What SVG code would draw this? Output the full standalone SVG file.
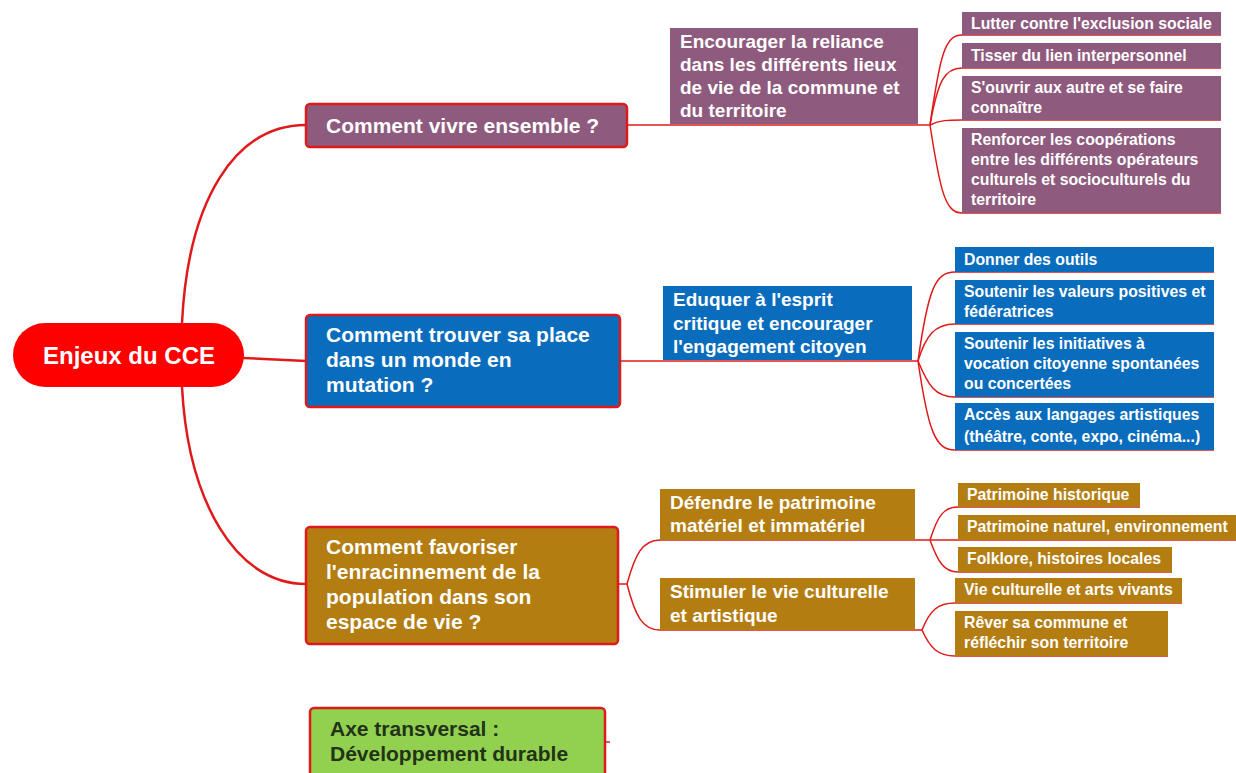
<svg xmlns="http://www.w3.org/2000/svg" width="1236" height="773" viewBox="0 0 1236 773">
<style>
text{font-family:"Liberation Sans",Arial,sans-serif;font-weight:bold;}
.main{stroke:#e01a1a;stroke-width:2.5;}
.pur{fill:#8e5a7d;}
.blu{fill:#0a6cbc;}
.brn{fill:#b37d12;}
.t1{fill:#fff;font-size:21px;}
.t2{fill:#fff;font-size:19px;}
.t3{fill:#fff;font-size:15.8px;}
.c{fill:none;stroke:#e01a1a;stroke-width:1.5;}
.cb{fill:none;stroke:#e01a1a;stroke-width:2.5;}
</style>
<rect width="1236" height="773" fill="#fff"/>
<g id="connectors">
<path class="cb" d="M182,323 C188,200 235,125 306,125"/>
<path class="cb" d="M182,387 C188,500 235,584 306,584"/>
<path class="cb" d="M243,358 L306,361"/>
<path class="c" d="M627,125 L930,125"/>
<path class="c" d="M930,125 C940,55 945,35 962,35 L1221,35"/>
<path class="c" d="M930,125 C938,80 945,68 962,68 L1221,68"/>
<path class="c" d="M930,125 C940,120 948,120 962,120 L1221,120"/>
<path class="c" d="M930,125 C940,190 945,213 962,213 L1221,213"/>
<path class="c" d="M620,361 L918,361"/>
<path class="c" d="M918,361 C928,290 935,272 955,272 L1214,272"/>
<path class="c" d="M918,361 C926,335 935,324 955,324 L1214,324"/>
<path class="c" d="M918,361 C928,385 935,397 955,397 L1214,397"/>
<path class="c" d="M918,361 C928,430 935,450 955,450 L1214,450"/>
<path class="c" d="M618,584 L627,584"/>
<path class="c" d="M627,584 C635,555 642,540 660,540 L930,540"/>
<path class="c" d="M627,584 C635,615 642,630 660,630 L922,630"/>
<path class="c" d="M930,540 C938,515 944,507 958,507 L1140,507"/>
<path class="c" d="M930,540 L1236,540"/>
<path class="c" d="M930,540 C938,562 944,572 958,572 L1172,572"/>
<path class="c" d="M922,630 C930,610 938,603 955,603 L1182,603"/>
<path class="c" d="M922,630 C930,648 938,656 955,656 L1168,656"/>
<path class="c" d="M605,742 L610,742"/>
</g>
<g id="root">
<rect x="13" y="323" width="231" height="64" rx="32" fill="#ff0000"/>
<text x="129" y="364" text-anchor="middle" fill="#fff" font-size="24">Enjeux du CCE</text>
</g>
<g id="n1">
<rect class="pur main" x="306" y="104" width="321" height="43" rx="4"/>
<text class="t1" x="326" y="133">Comment vivre ensemble ?</text>
</g>
<g id="n1a">
<rect class="pur" x="670" y="28" width="248" height="96"/>
<text class="t2"><tspan x="680" y="48">Encourager la reliance</tspan><tspan x="680" y="71">dans les différents lieux</tspan><tspan x="680" y="94">de vie de la commune et</tspan><tspan x="680" y="117">du territoire</tspan></text>
</g>
<g id="n1a1"><rect class="pur" x="962" y="12" width="259" height="23"/><text class="t3" x="971" y="29">Lutter contre l'exclusion sociale</text></g>
<g id="n1a2"><rect class="pur" x="962" y="43" width="259" height="25"/><text class="t3" x="971" y="61">Tisser du lien interpersonnel</text></g>
<g id="n1a3"><rect class="pur" x="962" y="76" width="259" height="44"/><text class="t3"><tspan x="971" y="93">S'ouvrir aux autre et se faire</tspan><tspan x="971" y="113">connaître</tspan></text></g>
<g id="n1a4"><rect class="pur" x="962" y="128" width="259" height="85"/><text class="t3"><tspan x="971" y="145">Renforcer les coopérations</tspan><tspan x="971" y="165">entre les différents opérateurs</tspan><tspan x="971" y="185">culturels et socioculturels du</tspan><tspan x="971" y="205">territoire</tspan></text></g>
<g id="n2">
<rect class="blu main" x="306" y="315" width="314" height="92" rx="4"/>
<text class="t1"><tspan x="326" y="342">Comment trouver sa place</tspan><tspan x="326" y="367">dans un monde en</tspan><tspan x="326" y="392">mutation ?</tspan></text>
</g>
<g id="n2a">
<rect class="blu" x="663" y="286" width="249" height="74"/>
<text class="t2"><tspan x="673" y="306">Eduquer à l'esprit</tspan><tspan x="673" y="330">critique et encourager</tspan><tspan x="673" y="353">l'engagement citoyen</tspan></text>
</g>
<g id="n2a1"><rect class="blu" x="955" y="247" width="259" height="25"/><text class="t3" x="964" y="265">Donner des outils</text></g>
<g id="n2a2"><rect class="blu" x="955" y="280" width="259" height="44"/><text class="t3"><tspan x="964" y="297">Soutenir les valeurs positives et</tspan><tspan x="964" y="317">fédératrices</tspan></text></g>
<g id="n2a3"><rect class="blu" x="955" y="332" width="259" height="65"/><text class="t3"><tspan x="964" y="349">Soutenir les initiatives à</tspan><tspan x="964" y="369">vocation citoyenne spontanées</tspan><tspan x="964" y="389">ou concertées</tspan></text></g>
<g id="n2a4"><rect class="blu" x="955" y="403" width="259" height="47"/><text class="t3"><tspan x="964" y="420">Accès aux langages artistiques</tspan><tspan x="964" y="442">(théâtre, conte, expo, cinéma...)</tspan></text></g>
<g id="n3">
<rect class="brn main" x="306" y="527" width="312" height="117" rx="4"/>
<text class="t1"><tspan x="326" y="554">Comment favoriser</tspan><tspan x="326" y="579">l'enracinnement de la</tspan><tspan x="326" y="604">population dans son</tspan><tspan x="326" y="629">espace de vie ?</tspan></text>
</g>
<g id="n3a">
<rect class="brn" x="660" y="489" width="255" height="51"/>
<text class="t2"><tspan x="670" y="509">Défendre le patrimoine</tspan><tspan x="670" y="532">matériel et immatériel</tspan></text>
</g>
<g id="n3b">
<rect class="brn" x="660" y="578" width="255" height="52"/>
<text class="t2"><tspan x="670" y="598">Stimuler le vie culturelle</tspan><tspan x="670" y="622">et artistique</tspan></text>
</g>
<g id="n3a1"><rect class="brn" x="958" y="483" width="182" height="24"/><text class="t3" x="967" y="500">Patrimoine historique</text></g>
<g id="n3a2"><rect class="brn" x="958" y="515" width="278" height="25"/><text class="t3" x="967" y="532">Patrimoine naturel, environnement</text></g>
<g id="n3a3"><rect class="brn" x="958" y="547" width="214" height="25"/><text class="t3" x="967" y="564">Folklore, histoires locales</text></g>
<g id="n3b1"><rect class="brn" x="955" y="578" width="227" height="25"/><text class="t3" x="964" y="595">Vie culturelle et arts vivants</text></g>
<g id="n3b2"><rect class="brn" x="955" y="611" width="213" height="45"/><text class="t3"><tspan x="964" y="628">Rêver sa commune et</tspan><tspan x="964" y="648">réfléchir son territoire</tspan></text></g>
<g id="n4">
<rect x="310" y="708" width="295" height="75" rx="4" fill="#92d050" class="main"/>
<text fill="#223318" font-size="21"><tspan x="330" y="736">Axe transversal :</tspan><tspan x="330" y="761">Développement durable</tspan></text>
</g>
</svg>
